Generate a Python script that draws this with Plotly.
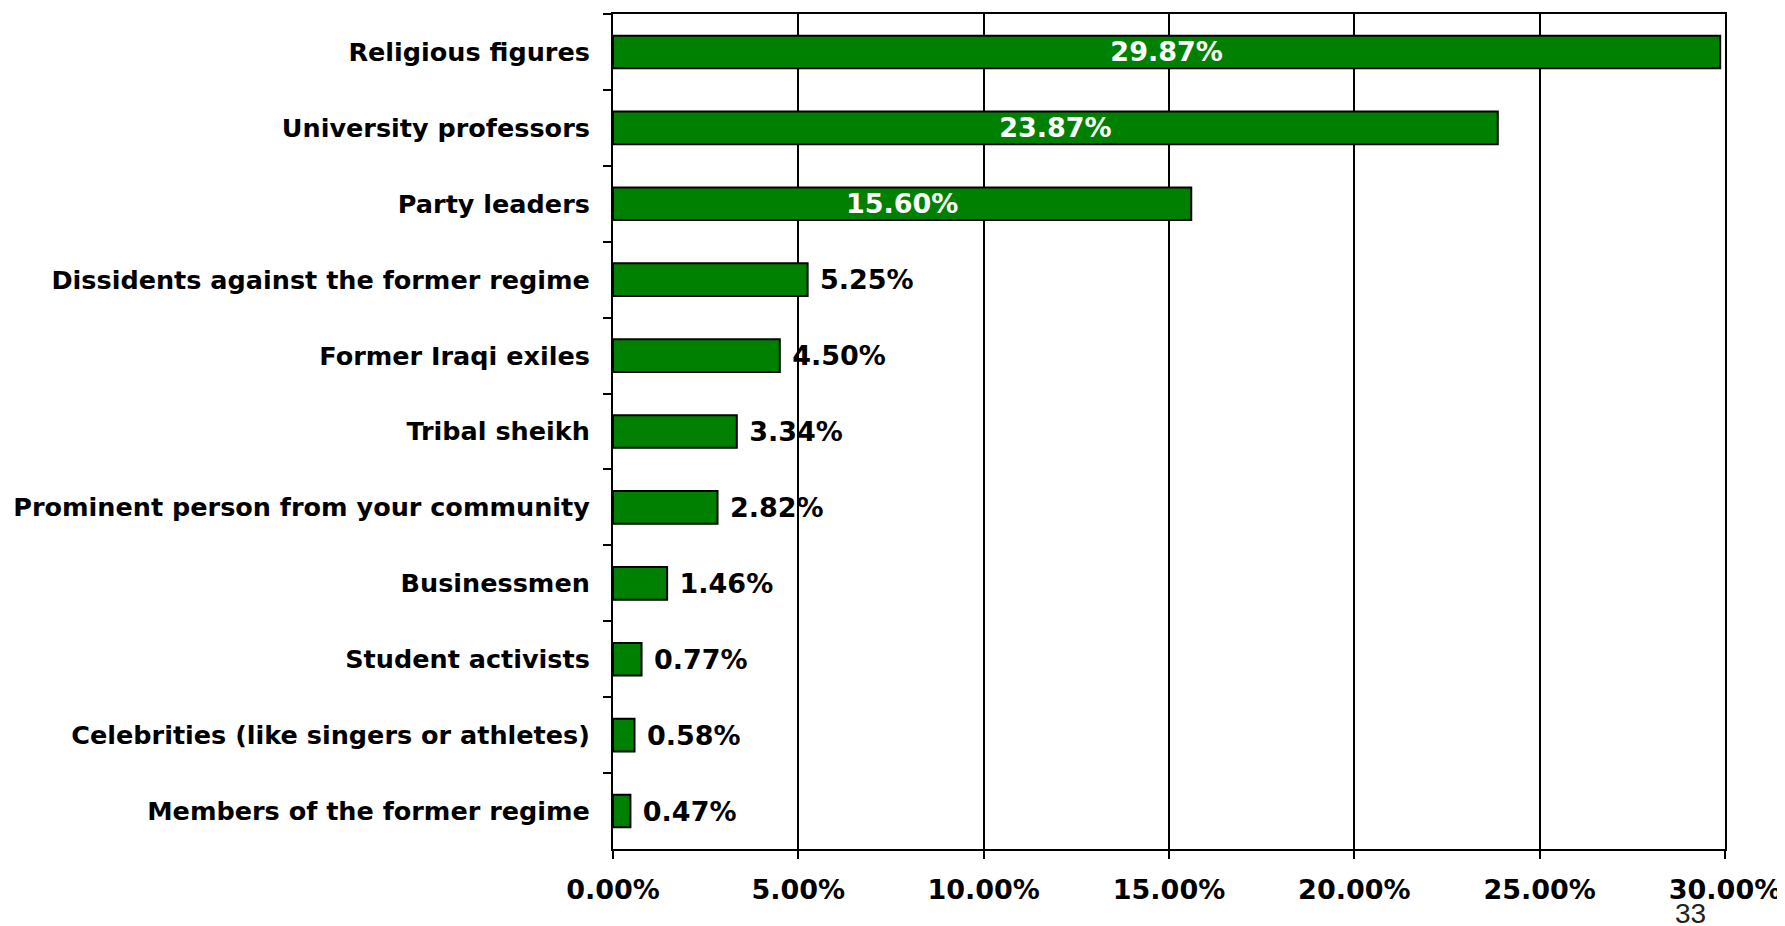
import plotly.graph_objects as go

categories = [
    "Religious figures",
    "University professors",
    "Party leaders",
    "Dissidents against the former regime",
    "Former Iraqi exiles",
    "Tribal sheikh",
    "Prominent person from your community",
    "Businessmen",
    "Student activists",
    "Celebrities (like singers or athletes)",
    "Members of the former regime",
]
values = [29.87, 23.87, 15.60, 5.25, 4.50, 3.34, 2.82, 1.46, 0.77, 0.58, 0.47]
x_ticks = [0, 5, 10, 15, 20, 25, 30]
x_tick_labels = ["0.00%", "5.00%", "10.00%", "15.00%", "20.00%", "25.00%", "30.00%"]
page_number = "33"

FONT = "DejaVu Sans"
positions = ["inside" if v > 10 else "outside" for v in values]
text_labels = [
    (f"{v:.2f}%" if p == "inside" else "\u00a0" + f"{v:.2f}%")
    for v, p in zip(values, positions)
]

fig = go.Figure(
    go.Bar(
        x=values,
        y=categories,
        orientation="h",
        marker=dict(color="#008000", line=dict(color="black", width=2)),
        text=text_labels,
        textposition=positions,
        insidetextanchor="middle",
        insidetextfont=dict(family=FONT, size=27, color="white", weight="bold"),
        outsidetextfont=dict(family=FONT, size=27, color="black", weight="bold"),
        cliponaxis=False,
        width=0.43,
    )
)

fig.update_layout(
    width=1785,
    height=926,
    margin=dict(l=605, r=68, t=6, b=85),
    paper_bgcolor="white",
    plot_bgcolor="white",
    showlegend=False,
    uniformtext=dict(minsize=27, mode="show"),
    annotations=[
        dict(
            text=page_number,
            xref="paper", yref="paper",
            x=1.0, y=0, xanchor="center", yanchor="middle",
            xshift=-35, yshift=-64,
            showarrow=False,
            font=dict(family="Liberation Sans", size=28, color="#222222"),
        )
    ],
)

fig.update_xaxes(
    range=[0, 30],
    tickvals=x_ticks,
    ticktext=x_tick_labels,
    showgrid=True,
    gridcolor="black",
    gridwidth=2,
    showline=True,
    linecolor="black",
    linewidth=2,
    mirror=True,
    ticks="outside",
    ticklen=8,
    tickwidth=2,
    tickcolor="black",
    ticklabelstandoff=8,
    tickfont=dict(family=FONT, size=27, color="black", weight="bold"),
    zeroline=False,
    automargin=False,
)

fig.update_yaxes(
    autorange="reversed",
    showgrid=False,
    showline=True,
    linecolor="black",
    linewidth=2,
    mirror=True,
    ticks="outside",
    tickson="boundaries",
    ticklen=8,
    tickwidth=2,
    tickcolor="black",
    ticklabelstandoff=16,
    tickfont=dict(family=FONT, size=25.5, color="black", weight="bold"),
    automargin=False,
)

fig.write_html("out.html")
